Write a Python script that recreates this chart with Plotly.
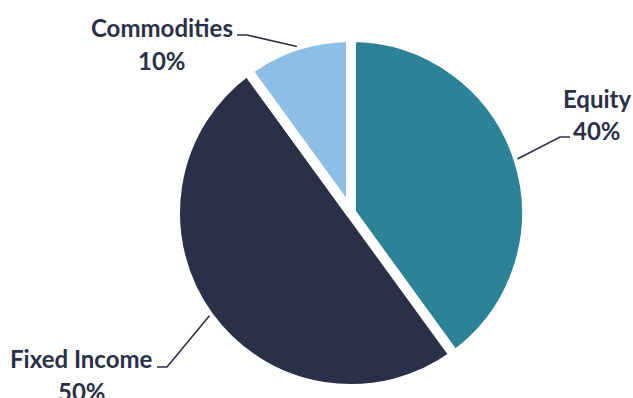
import math
import plotly.graph_objects as go

# ---- data ----
labels = ["Equity", "Fixed Income", "Commodities"]
values = [40, 50, 10]
pct_text = ["40%", "50%", "10%"]
colors = ["#2C8397", "#2B3049", "#8DBFE6"]

W, H = 633, 398
cx, cy, R = 351, 213, 176          # pie centre / radius in pixels (from top)
text_color = "#2B3049"

def px(x, y):
    return x / W, 1 - y / H

dx0, dy0 = px(cx - R, cy + R)
dx1, dy1 = px(cx + R, cy - R)

fig = go.Figure(go.Pie(
    labels=labels, values=values, sort=False, direction="clockwise", rotation=0,
    marker=dict(colors=colors, line=dict(color="white", width=10)),
    textinfo="none", hoverinfo="label+percent", showlegend=False,
    domain=dict(x=[dx0, dx1], y=[dy0, dy1]),
))

# label layout (pixel positions of text and leader-line elbows)
label_pos = {
    "Equity":       dict(tx=597, ty1=98,  ty2=130, elbow=(560, 137), end=(570, 137)),
    "Fixed Income": dict(tx=82,  ty1=358, ty2=391, elbow=(167, 367), end=(157, 367)),
    "Commodities":  dict(tx=162, ty1=28,  ty2=61,  elbow=(247, 35),  end=(237, 35)),
}

total = sum(values)
cum = 0
annotations, shapes = [], []
font = dict(family="Lato, 'Open Sans', sans-serif", size=24, color=text_color)
for lab, v, p in zip(labels, values, pct_text):
    mid = (cum + v / 2) / total * 2 * math.pi
    cum += v
    r_edge = R - 1
    ax = cx + r_edge * math.sin(mid)
    ay = cy - r_edge * math.cos(mid)
    lp = label_pos[lab]
    ex, ey = lp["elbow"]
    nx, ny = lp["end"]
    a = px(ax, ay); e = px(ex, ey); n = px(nx, ny)
    shapes.append(dict(type="path", xref="paper", yref="paper",
                       path=f"M {a[0]},{a[1]} L {e[0]},{e[1]} L {n[0]},{n[1]}",
                       line=dict(color=text_color, width=1.6)))
    x1, y1 = px(lp["tx"], lp["ty1"])
    x2, y2 = px(lp["tx"], lp["ty2"])
    annotations.append(dict(x=x1, y=y1, xref="paper", yref="paper", text=f"<b>{lab}</b>",
                            showarrow=False, xanchor="center", yanchor="middle", font=font))
    annotations.append(dict(x=x2, y=y2, xref="paper", yref="paper", text=f"<b>{p}</b>",
                            showarrow=False, xanchor="center", yanchor="middle", font=font))

fig.update_layout(
    width=W, height=H, margin=dict(l=0, r=0, t=0, b=0),
    paper_bgcolor="white", plot_bgcolor="white",
    annotations=annotations, shapes=shapes,
)

fig.write_html("out.html", config={"displayModeBar": False},
               post_script="document.body.style.margin='0';document.body.style.overflow='hidden';")
